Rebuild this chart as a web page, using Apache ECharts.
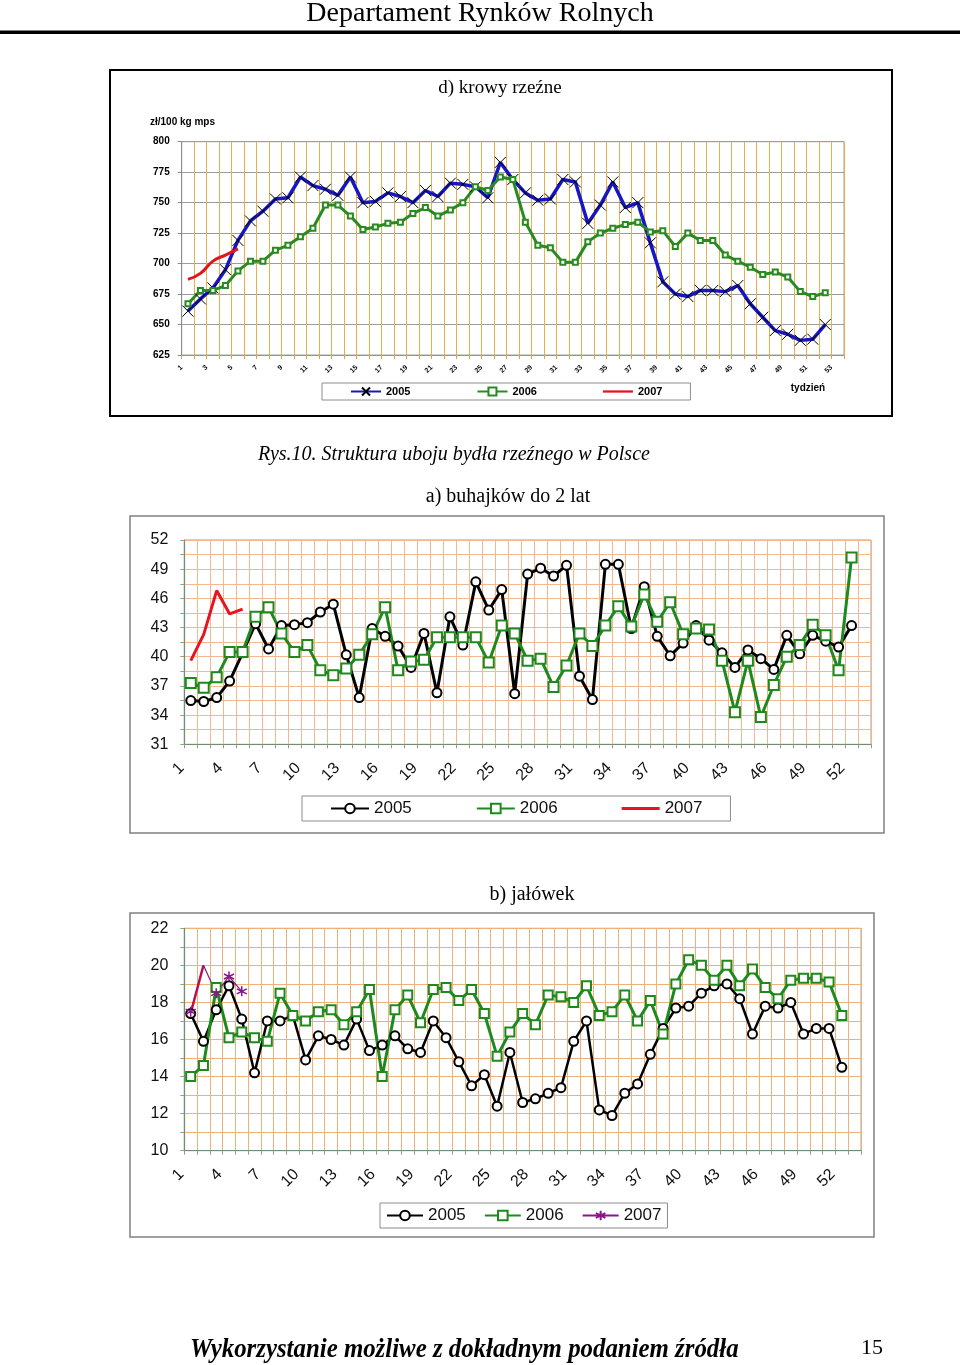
<!DOCTYPE html>
<html><head><meta charset="utf-8">
<script src="https://cdn.jsdelivr.net/npm/echarts@6/dist/echarts.min.js"></script>
<style>
html,body{margin:0;padding:0;background:#fff;}
#wrap{position:relative;width:960px;height:1365px;}
.c{position:absolute;left:0;top:0;width:960px;height:1365px;}
</style>
</head><body>
<div id="wrap"><div id="cd" class="c"></div><div id="ca" class="c"></div><div id="cb" class="c"></div></div>
<script>
// ---------- data ----------
const weeks = ['1','2','3','4','5','6','7','8','9','10','11','12','13','14','15','16','17','18','19','20','21','22','23','24','25','26','27','28','29','30','31','32','33','34','35','36','37','38','39','40','41','42','43','44','45','46','47','48','49','50','51','52','53'];
const seriesNames = ['2005','2006','2007'];

// d) krowy rzeźne  (zł/100 kg mps)
const d2005 = [661,671,680,695,719,735,743,753,754,771,764,761,756,771,750,751,758,755,750,760,755,766,765,763,754,783,769,758,752,753,769,767,733,748,767,746,750,717,685,675,673,678,678,677,682,667,656,645,642,637,638,650];
const d2006 = [667,678,678,682,694,702,702,711,715,722,729,748,748,739,728,730,733,734,741,746,739,744,750,763,760,771,769,734,715,713,701,701,718,725,729,732,734,726,727,714,725,719,719,707,702,697,691,693,689,677,673,676];
const d2007 = [687,692,702,707,712];

// a) buhajków do 2 lat
const a2005 = [35.5,35.4,35.8,37.5,40.4,43.4,40.8,43.2,43.3,43.5,44.6,45.4,40.2,35.8,42.9,42.1,41.1,38.9,42.4,36.3,44.1,41.2,47.7,44.8,46.9,36.2,48.5,49.1,48.3,49.4,38.0,35.6,49.5,49.5,42.9,47.2,42.1,40.1,41.4,43.2,41.7,40.4,38.9,40.7,39.8,38.7,42.2,40.3,42.2,41.6,41.0,43.2];
const a2006 = [37.3,36.8,37.9,40.5,40.5,44.1,45.1,42.4,40.5,41.2,38.6,38.1,38.8,40.2,42.3,45.1,38.6,39.5,39.7,42.0,42.0,42.0,42.0,39.4,43.2,42.4,39.6,39.8,36.9,39.1,42.4,41.1,43.2,45.2,43.1,46.4,43.6,45.6,42.3,42.9,42.8,39.6,34.3,39.6,33.8,37.1,40.0,41.2,43.3,42.2,38.6,50.2];
const a2007 = [39.6,42.3,46.8,44.4,44.9];

// b) jałówek
const b2005 = [17.4,15.9,17.6,18.9,17.1,14.2,17.0,17.0,17.3,14.9,16.2,16.0,15.7,17.1,15.4,15.7,16.2,15.5,15.3,17.0,16.1,14.8,13.5,14.1,12.4,15.3,12.6,12.8,13.1,13.4,15.9,17.0,12.2,11.9,13.1,13.6,15.2,16.6,17.7,17.8,18.5,18.9,19.0,18.2,16.3,17.8,17.7,18.0,16.3,16.6,16.6,14.5];
const b2006 = [14.0,14.6,18.8,16.1,16.4,16.1,15.9,18.5,17.3,17.0,17.5,17.6,16.8,17.5,18.7,14.0,17.6,18.4,16.9,18.7,18.8,18.1,18.7,17.4,15.1,16.4,17.4,16.8,18.4,18.3,18.0,18.9,17.3,17.5,18.4,17.0,18.1,16.3,19.0,20.3,20.0,19.2,20.0,18.9,19.8,18.8,18.2,19.2,19.3,19.3,19.1,17.3];
const b2007 = [17.5,20.0,18.5,19.4,18.6];
const b2007red = [17.4,20.0];

// ---------- styles ----------
const SANS = 'Liberation Sans';
const SERIF = 'Liberation Serif';
const X_PATH = 'path://M0,0L10,10M10,0L0,10';
const STAR_PATH = 'path://M5,0L5,10M0.7,2.5L9.3,7.5M0.7,7.5L9.3,2.5';
const LINE_ICON = 'path://M0,0L40,0L40,3L0,3Z';

function txt(x, y, text, font, align) {
  return {type:'text', x:x, y:y, silent:true,
    style:{text:text, fill:'#000', font:font, textAlign:align||'center', textVerticalAlign:'middle', verticalAlign:'middle'}};
}
function box(x, y, w, h, color, lw) {
  return {type:'rect', silent:true, shape:{x:x, y:y, width:w, height:h}, style:{fill:'none', stroke:color, lineWidth:lw}};
}
function plainLine(name, data, color, width, smooth) {
  return {name:name, type:'line', data:data, symbol:'none', smooth:!!smooth,
    lineStyle:{color:color, width:width}, itemStyle:{color:color}};
}
const legendDataLine2007 = ['2005', '2006', {name:'2007', icon:LINE_ICON}];

// ---------- chart d ----------
const chD = echarts.init(document.getElementById('cd'), null, {renderer:'canvas'});
chD.setOption({
  animation:false,
  textStyle:{fontFamily:SANS},
  graphic:[
    txt(480, 14, 'Departament Rynków Rolnych', '28px "'+SERIF+'"'),
    {type:'rect', silent:true, shape:{x:0, y:30.5, width:960, height:3.5}, style:{fill:'#000'}},
    box(110, 70, 782, 346, '#000', 2),
    txt(500, 88, 'd) krowy rzeźne', '19px "'+SERIF+'"'),
    txt(150, 122, 'zł/100 kg mps', 'bold 10px "'+SANS+'"', 'left'),
    txt(808, 388, 'tydzień', 'bold 10px "'+SANS+'"')
  ],
  grid:{left:181.7, top:141.7, width:662.3, height:213.3, show:true, borderColor:'#a0a0a0', borderWidth:1},
  xAxis:{type:'category', data:weeks, boundaryGap:true,
    axisLine:{lineStyle:{color:'#8c9c8c', width:1}},
    axisTick:{show:true, interval:0, length:4, lineStyle:{color:'#E0A434'}},
    axisLabel:{interval:1, rotate:45, fontSize:7, fontWeight:'bold', color:'#000', margin:5, padding:[0,9,0,0], fontFamily:SANS},
    splitLine:{show:true, interval:0, lineStyle:{color:'#E8B048', width:1}}},
  yAxis:{type:'value', min:625, max:800, interval:25,
    axisLine:{show:true, lineStyle:{color:'#8c8c8c'}},
    axisTick:{show:true, length:4, lineStyle:{color:'#8c8c8c'}},
    axisLabel:{fontSize:10, fontWeight:'bold', color:'#000', margin:12, fontFamily:SANS},
    splitLine:{lineStyle:{color:'#9c9c9c', width:1}}},
  legend:{data:legendDataLine2007, left:322, top:383, padding:[3,28,3,28], itemWidth:30, itemHeight:10, itemGap:66,
    borderColor:'#8c8c8c', borderWidth:1, selectedMode:false,
    textStyle:{fontSize:11, fontWeight:'bold', color:'#000', fontFamily:SANS}},
  series:[
    {name:'2005', type:'line', data:d2005, symbol:X_PATH, symbolSize:11, symbolKeepAspect:true, showAllSymbol:true,
      lineStyle:{color:'#1616C4', width:3.5}, itemStyle:{color:'rgba(0,0,0,0)', borderColor:'#000', borderWidth:1}},
    {name:'2006', type:'line', data:d2006, symbol:'emptyRect', symbolSize:5, showAllSymbol:true,
      lineStyle:{color:'#2A8A22', width:3}, itemStyle:{color:'#2A8A22', borderColor:'#2A8A22', borderWidth:1.5}},
    plainLine('2007', d2007, '#E2141C', 3, true)
  ]
});

// ---------- chart a ----------
const chA = echarts.init(document.getElementById('ca'), null, {renderer:'canvas'});
chA.setOption({
  animation:false,
  textStyle:{fontFamily:SANS},
  graphic:[
    txt(454, 455, 'Rys.10. Struktura uboju bydła rzeźnego w Polsce', 'italic 20px "'+SERIF+'"'),
    txt(508, 497, 'a) buhajków do 2 lat', '20px "'+SERIF+'"'),
    box(130, 516, 754, 317, '#808080', 1.5)
  ],
  grid:{left:184.3, top:540, width:686.7, height:204.3, show:true, borderColor:'#a0a0a0', borderWidth:1},
  xAxis:{type:'category', data:weeks, boundaryGap:true,
    axisLine:{lineStyle:{color:'#6f8f6f', width:1.2}},
    axisTick:{show:true, interval:0, length:4, lineStyle:{color:'#8fa08f'}},
    axisLabel:{interval:2, rotate:45, fontSize:16, color:'#111', margin:12, padding:[0,13,0,0], fontFamily:SANS},
    splitLine:{show:true, interval:0, lineStyle:{color:'#F3B88E', width:1}}},
  yAxis:{type:'value', min:31, max:52, interval:1.5,
    axisLine:{show:true, lineStyle:{color:'#6f8f6f', width:1.2}},
    axisTick:{show:true, length:4, lineStyle:{color:'#8fa08f'}},
    axisLabel:{fontSize:16, color:'#111', margin:16, fontFamily:SANS,
      formatter:function(v){ return ((v-31)%3===0) ? String(v) : ''; }},
    splitLine:{lineStyle:{color:'#F3B88E', width:1}}},
  legend:{data:legendDataLine2007, left:302, top:796, padding:[4,28,4,28], itemWidth:38, itemHeight:12, itemGap:64,
    borderColor:'#8c8c8c', borderWidth:1, selectedMode:false,
    textStyle:{fontSize:17, color:'#111', fontFamily:SANS}},
  series:[
    {name:'2005', type:'line', data:a2005, symbol:'emptyCircle', symbolSize:9, showAllSymbol:true,
      lineStyle:{color:'#000', width:3}, itemStyle:{color:'#000', borderColor:'#000', borderWidth:1.5}},
    {name:'2006', type:'line', data:a2006, symbol:'emptyRect', symbolSize:10, showAllSymbol:true,
      lineStyle:{color:'#1E8A1E', width:3}, itemStyle:{color:'#1E8A1E', borderColor:'#1E8A1E', borderWidth:1.5}},
    plainLine('2007', a2007, '#E8141E', 3, false)
  ]
});

// ---------- chart b ----------
const chB = echarts.init(document.getElementById('cb'), null, {renderer:'canvas'});
chB.setOption({
  animation:false,
  textStyle:{fontFamily:SANS},
  graphic:[
    txt(532, 895, 'b) jałówek', '20px "'+SERIF+'"'),
    box(130, 913, 744, 324, '#808080', 1.5),
    {type:'text', x:190, y:1350, silent:true, scaleX:0.92, originX:0, originY:0,
      style:{text:'Wykorzystanie możliwe z dokładnym podaniem źródła', fill:'#000',
        font:'italic bold 27px "'+SERIF+'"', textAlign:'left', textVerticalAlign:'middle', verticalAlign:'middle'}},
    txt(872, 1348, '15', '22px "'+SERIF+'"')
  ],
  grid:{left:184.3, top:928.3, width:676.7, height:222.4, show:true, borderColor:'#a0a0a0', borderWidth:1},
  xAxis:{type:'category', data:weeks, boundaryGap:true,
    axisLine:{lineStyle:{color:'#6f8f6f', width:1.2}},
    axisTick:{show:true, interval:0, length:4, lineStyle:{color:'#8fa08f'}},
    axisLabel:{interval:2, rotate:45, fontSize:16, color:'#111', margin:12, padding:[0,13,0,0], fontFamily:SANS},
    splitLine:{show:true, interval:0, lineStyle:{color:'#EDB27A', width:1}}},
  yAxis:{type:'value', min:10, max:22, interval:1,
    axisLine:{show:true, lineStyle:{color:'#6f8f6f', width:1.2}},
    axisTick:{show:true, length:4, lineStyle:{color:'#8fa08f'}},
    axisLabel:{fontSize:16, color:'#111', margin:16, fontFamily:SANS,
      formatter:function(v){ return (v%2===0) ? String(v) : ''; }},
    splitLine:{lineStyle:{color:'#EDB27A', width:1}}},
  legend:{data:seriesNames, left:380, top:1203, padding:[4,6,4,6], itemWidth:36, itemHeight:12, itemGap:18,
    borderColor:'#8c8c8c', borderWidth:1, selectedMode:false,
    textStyle:{fontSize:17, color:'#111', fontFamily:SANS}},
  series:[
    {name:'2005', type:'line', data:b2005, symbol:'emptyCircle', symbolSize:9, showAllSymbol:true,
      lineStyle:{color:'#000', width:2.5}, itemStyle:{color:'#000', borderColor:'#000', borderWidth:1.5}},
    {name:'2006', type:'line', data:b2006, symbol:'emptyRect', symbolSize:9, showAllSymbol:true,
      lineStyle:{color:'#1E8A1E', width:3}, itemStyle:{color:'#1E8A1E', borderColor:'#1E8A1E', borderWidth:1.5}},
    plainLine('2007 tyg. 1-2', b2007red, '#E8141E', 2.5, false),
    {name:'2007', type:'line', z:3, showAllSymbol:true,
      data:b2007.map(function(v,i){ return i===1 ? {value:v, symbol:'none'} : v; }),
      symbol:STAR_PATH, symbolSize:10,
      lineStyle:{color:'#8B148B', width:1.2}, itemStyle:{color:'rgba(0,0,0,0)', borderColor:'#8B148B', borderWidth:1.5}}
  ]
});
</script>
</body></html>
